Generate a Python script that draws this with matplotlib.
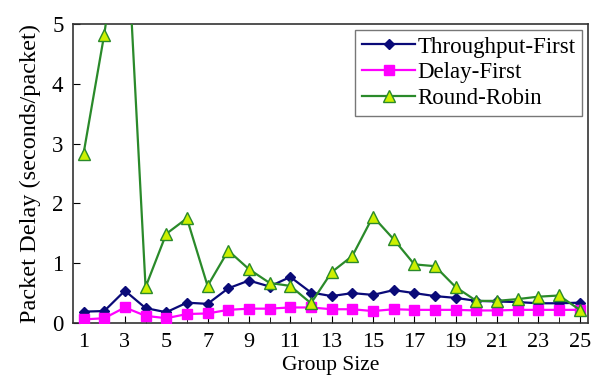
import numpy as np
import matplotlib.pyplot as plt

plt.rcParams['font.family'] = ['Liberation Serif', 'DejaVu Serif']

group_size = np.arange(1, 26)

throughput_first = [0.19, 0.20, 0.54, 0.25, 0.18, 0.34, 0.32, 0.58, 0.71, 0.61,
                    0.77, 0.51, 0.45, 0.50, 0.47, 0.55, 0.50, 0.45, 0.42, 0.37,
                    0.36, 0.35, 0.33, 0.33, 0.34]
delay_first = [0.06, 0.08, 0.26, 0.12, 0.08, 0.15, 0.16, 0.22, 0.24, 0.24,
               0.26, 0.26, 0.23, 0.23, 0.20, 0.23, 0.22, 0.22, 0.22, 0.21,
               0.21, 0.22, 0.22, 0.22, 0.22]
round_robin = [2.83, 4.82, 7.2, 0.60, 1.49, 1.75, 0.62, 1.21, 0.90, 0.67,
               0.62, 0.33, 0.85, 1.12, 1.78, 1.40, 0.98, 0.95, 0.60, 0.37,
               0.37, 0.40, 0.44, 0.46, 0.22]

fig = plt.figure(figsize=(6, 3.85), dpi=100)
ax = fig.add_axes([0.122, 0.161, 0.858, 0.777])

ax.plot(group_size, throughput_first, color='#0a0a78', lw=1.6, marker='D',
        ms=5, mfc='#0a0a78', mec='#0a0a78', label='Throughput-First', zorder=3)
ax.plot(group_size, delay_first, color='#ff00ff', lw=1.6, marker='s',
        ms=7, mfc='#ff00ff', mec='#ff00ff', label='Delay-First', zorder=3)
ax.plot(group_size, round_robin, color='#2a8a2a', lw=1.6, marker='^',
        ms=8, mfc='#ccf000', mec='#2a8a2a', mew=1.0, label='Round-Robin', zorder=4)

ax.set_xlim(0.5, 25.4)
ax.set_ylim(0, 5)
ax.set_xticks(np.arange(1, 26, 2))
ax.set_xticks(group_size, minor=True)
ax.set_yticks(range(0, 6))
ax.tick_params(axis='x', direction='in', labelsize=16, length=5, pad=7)
ax.tick_params(axis='y', direction='in', labelsize=16.5, length=5, pad=7)
ax.tick_params(axis='x', which='minor', direction='in', length=4)
for s in ax.spines.values():
    s.set_linewidth(1.2)
    s.set_color('#333333')

ax.set_xlabel('Group Size', fontsize=15.5, labelpad=3)
ax.set_ylabel('Packet Delay (seconds/packet)', fontsize=17.5, labelpad=8)

leg = ax.legend(loc='upper right', fontsize=16.5, frameon=True, fancybox=False,
                handlelength=2.3, handletextpad=0.1, borderpad=0.3,
                labelspacing=0.2, borderaxespad=0.25)
leg.get_frame().set_edgecolor('#555555')
leg.get_frame().set_linewidth(1.0)

fig.savefig('out.png', dpi=100)
